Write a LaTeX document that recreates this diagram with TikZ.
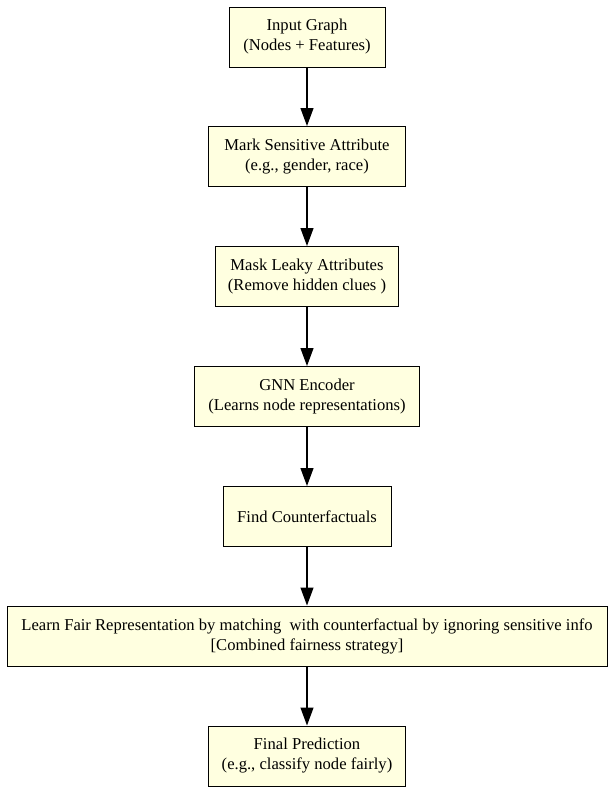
\documentclass[tikz,border=0pt]{standalone}
\usepackage{fontspec}
\setmainfont{Liberation Serif}
\definecolor{boxFill}{HTML}{FFFFE0}
\usetikzlibrary{arrows.meta}
\tikzset{
  stagebox/.style={
    draw=black,fill=boxFill,line width=1pt,align=center,
    minimum height=60pt,inner sep=0pt,
    font=\fontsize{16.6}{20}\selectfont,
  },
  flowarrow/.style={
    draw,line width=1.2pt,-{Triangle[length=18pt,width=13pt]},
  },
}

\begin{document}
\begin{tikzpicture}[x=1pt,y=-1pt]
   \useasboundingbox (0,0) rectangle (613,793);

   % NODES
   \node[stagebox,minimum width=156pt] (input) at (307, 37) {Input Graph\\(Nodes + Features)};
   \node[stagebox,minimum width=197pt] (mark) at (307, 156.5) {Mark Sensitive Attribute\\(e.g., gender, race)};
   \node[stagebox,minimum width=183pt] (mask) at (307, 276.5) {Mask Leaky Attributes\\(Remove hidden clues )};
   \node[stagebox,minimum width=225pt] (gnn) at (307, 396.5) {GNN Encoder\\(Learns node representations)};
   \node[stagebox,minimum width=168pt] (cf) at (307, 516.5) {Find Counterfactuals};
   \node[stagebox,minimum width=600pt] (fair) at (307, 636) {Learn Fair Representation by matching\ \ with counterfactual by ignoring sensitive info\\{[Combined fairness strategy]}};
   \node[stagebox,minimum width=197pt] (pred) at (307, 756) {Final Prediction\\(e.g., classify node fairly)};

   % DRAW FLOW
   \path[flowarrow] (input)--(mark);
   \path[flowarrow] (mark)--(mask);
   \path[flowarrow] (mask)--(gnn);
   \path[flowarrow] (gnn)--(cf);
   \path[flowarrow] (cf)--(fair);
   \path[flowarrow] (fair)--(pred);

\end{tikzpicture}
\end{document}
